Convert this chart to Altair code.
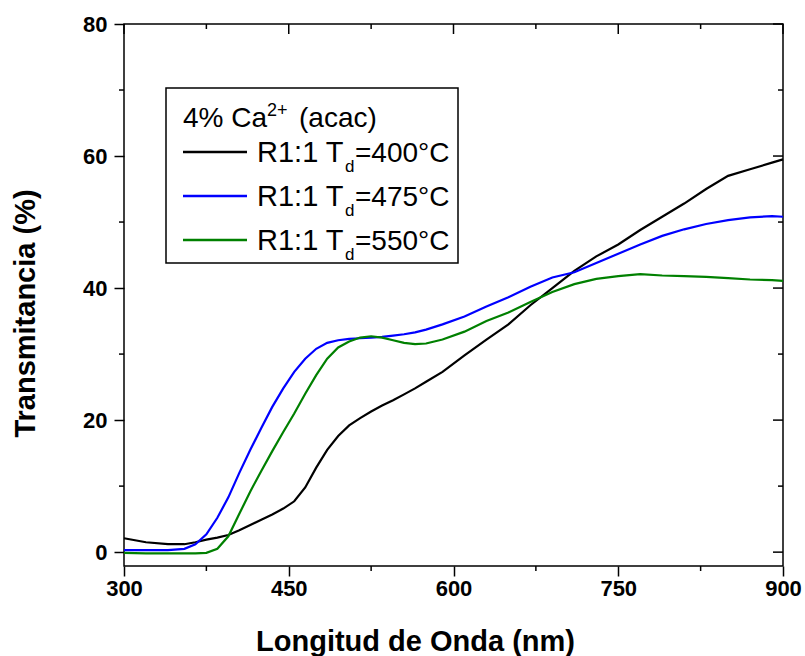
import altair as alt
import pandas as pd

# ---------------- data ----------------
wavelength = [300, 320, 340, 355, 365, 375, 385, 395, 405, 415, 425, 435, 445, 455, 465,
              475, 485, 495, 505, 515, 525, 535, 545, 555, 565, 575, 590, 610, 630, 650,
              670, 690, 710, 730, 750, 770, 790, 810, 830, 850, 870, 890, 900]
t_400 = [2.1, 1.5, 1.2, 1.2, 1.5, 1.9, 2.2, 2.6, 3.3, 4.1, 4.9, 5.7, 6.6, 7.7, 9.8,
         12.8, 15.5, 17.6, 19.2, 20.3, 21.3, 22.2, 23.0, 23.9, 24.8, 25.8, 27.3, 29.8, 32.2, 34.5,
         37.4, 40.0, 42.6, 44.8, 46.6, 48.8, 50.8, 52.8, 55.0, 57.0, 58.0, 59.0, 59.5]
t_475 = [0.3, 0.3, 0.3, 0.5, 1.2, 2.7, 5.2, 8.3, 12.0, 15.5, 18.8, 22.0, 24.8, 27.3, 29.3,
         30.8, 31.7, 32.1, 32.3, 32.4, 32.5, 32.6, 32.8, 33.0, 33.3, 33.7, 34.5, 35.7, 37.2, 38.6,
         40.2, 41.6, 42.4, 43.8, 45.2, 46.6, 47.9, 48.9, 49.7, 50.3, 50.7, 50.9, 50.8]
t_550 = [-0.1, -0.2, -0.2, -0.2, -0.2, -0.1, 0.5, 2.4, 5.8, 9.2, 12.3, 15.3, 18.2, 21.0, 24.0,
         26.8, 29.3, 31.0, 31.9, 32.5, 32.7, 32.5, 32.1, 31.7, 31.5, 31.6, 32.2, 33.4, 35.0, 36.3,
         37.9, 39.4, 40.6, 41.4, 41.8, 42.1, 41.9, 41.8, 41.7, 41.5, 41.3, 41.2, 41.1]

series_names = ["R1:1 Td=400°C", "R1:1 Td=475°C", "R1:1 Td=550°C"]
series_temps = ["=400°C", "=475°C", "=550°C"]
series_colors = ["#000000", "#0000FF", "#008000"]
legend_title = ["4% Ca", "2+", "(acac)"]

x_major = [300, 450, 600, 750, 900]
x_minor = [375, 525, 675, 825]
y_major = [0, 20, 40, 60, 80]
y_minor = [10, 30, 50, 70]

# ---------------- layout ----------------
W, H = 659, 542
FONT = "Liberation Sans"
MAJ, MIN = 10, 5

rows = []
for name, vals in zip(series_names, [t_400, t_475, t_550]):
    for w, v in zip(wavelength, vals):
        rows.append({"wl": w, "T": v, "serie": name})
df = pd.DataFrame(rows)

xscale = alt.Scale(domain=[300, 900], nice=False, zero=False)
yscale = alt.Scale(domain=[-2.1, 80], nice=False, zero=False)

axis_common = dict(
    grid=False, domain=False, ticks=True, tickSize=MAJ, tickWidth=1.5, tickColor="black",
    labelFont=FONT, labelFontWeight="bold", labelFontSize=22, labelColor="black",
    titleFont=FONT, titleFontWeight="bold", titleFontSize=29, titleColor="black",
    labelFlush=False, labelOverlap=False, format="d",
)
x_axis = alt.Axis(values=x_major, title="Longitud de Onda (nm)", labelPadding=2,
                  titleX=291, titleY=84, titleBaseline="alphabetic", **axis_common)
y_axis = alt.Axis(values=y_major, title="Transmitancia (%)", labelPadding=7,
                  titleX=-90, titleY=289, titleBaseline="alphabetic", **axis_common)

lines = alt.Chart(df).mark_line(strokeWidth=2.2).encode(
    x=alt.X("wl:Q", scale=xscale, axis=x_axis),
    y=alt.Y("T:Q", scale=yscale, axis=y_axis),
    color=alt.Color("serie:N", scale=alt.Scale(domain=series_names, range=series_colors),
                    legend=None),
)

layers = [lines]

def xticks(vals, y1, y2):
    return alt.Chart(pd.DataFrame({"v": vals})).mark_rule(color="black", strokeWidth=1.5).encode(
        x=alt.X("v:Q", scale=xscale, axis=x_axis), y=alt.value(y1), y2=alt.value(y2))

def yticks(vals, x1, x2):
    return alt.Chart(pd.DataFrame({"v": vals})).mark_rule(color="black", strokeWidth=1.5).encode(
        y=alt.Y("v:Q", scale=yscale, axis=y_axis), x=alt.value(x1), x2=alt.value(x2))

layers += [
    xticks(x_minor, H, H + MIN),          # bottom minor (outward)
    xticks(x_major, 0, MAJ),              # top major (inward)
    xticks(x_minor, 0, MIN),              # top minor (inward)
    yticks(y_minor, -MIN, 0),             # left minor (outward)
    yticks(y_major, W - MAJ, W),          # right major (inward)
    yticks(y_minor, W - MIN, W),          # right minor (inward)
]

one = pd.DataFrame({"a": [0]})

# legend box
layers.append(alt.Chart(one).mark_rect(fill="white", stroke="black", strokeWidth=1.5).encode(
    x=alt.value(42), x2=alt.value(334), y=alt.value(64), y2=alt.value(239)))

def txt(s, x, y, size):
    return alt.Chart(one).mark_text(text=s, align="left", baseline="alphabetic", font=FONT,
                                    fontSize=size, color="black").encode(
        x=alt.value(x), y=alt.value(y))

# legend title: 4% Ca^{2+} (acac)
layers += [txt(legend_title[0], 59, 103, 28), txt(legend_title[1], 143, 92, 18),
           txt(legend_title[2], 175, 103, 28)]

for i, (temp, col) in enumerate(zip(series_temps, series_colors)):
    yl = 128 + 44 * i
    layers.append(alt.Chart(one).mark_rule(color=col, strokeWidth=2.5).encode(
        x=alt.value(59), x2=alt.value(123), y=alt.value(yl)))
    layers += [txt("R1:1 T", 133, yl + 10, 29), txt("d", 221, yl + 20, 17),
               txt(temp, 231, yl + 10, 28)]

chart = alt.layer(*layers).properties(
    width=W, height=H, autosize="none", background="white",
    padding={"left": 124, "top": 24, "right": 22, "bottom": 90},
).configure_view(stroke="black", strokeWidth=1.5)

chart.save("out.html", embed_options={"renderer": "svg", "actions": False})
